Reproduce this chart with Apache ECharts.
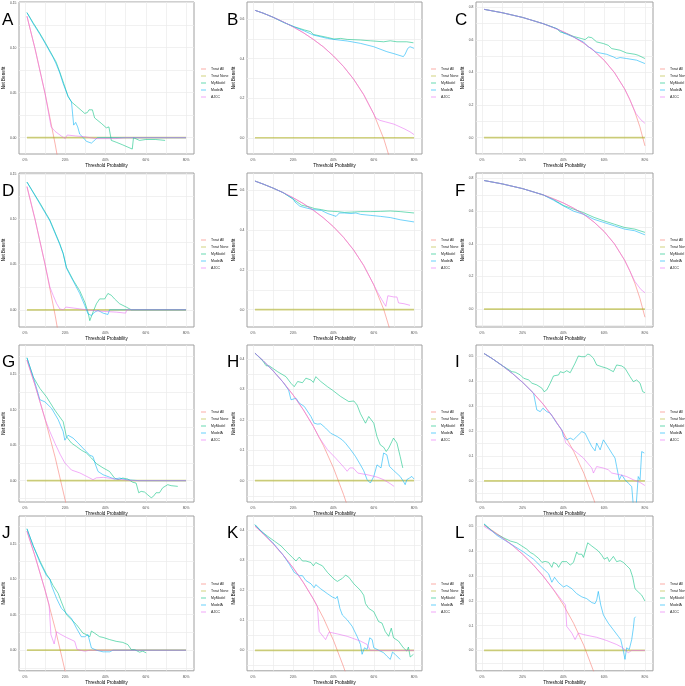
<!DOCTYPE html>
<html><head><meta charset="utf-8">
<script src="https://cdn.jsdelivr.net/npm/echarts@6/dist/echarts.min.js"></script>
<style>html,body{margin:0;padding:0;background:#fff}#c{width:685px;height:686px}</style>
</head><body><div id="c"></div>
<script>
// ---------- DATA (threshold, net benefit) ----------
const seriesNames = ['Treat All','Treat None','MyModel','ModelA','AJCC'];
const xTicks = [0, 0.2, 0.4, 0.6, 0.8];
const yTicks015 = [0, 0.05, 0.10, 0.15];
const yTicks04 = [0, 0.1, 0.2, 0.3, 0.4];
const yTicks05 = [0, 0.1, 0.2, 0.3, 0.4, 0.5];
const yTicks06 = [0, 0.2, 0.4, 0.6];
const yTicks08 = [0, 0.2, 0.4, 0.6, 0.8];
const treatNone = [[0.01,0],[0.80,0]];

const A_all = [[0.01,0.135],[0.05,0.099],[0.10,0.049],[0.15,-0.007],[0.20,-0.07]];
const A_my = [[0.01,0.139],[0.04,0.128],[0.074,0.116],[0.10,0.106],[0.14,0.090],[0.155,0.084],[0.173,0.073],[0.19,0.062],[0.214,0.046],[0.23,0.040],[0.256,0.035],[0.297,0.027],[0.31,0.028],[0.318,0.031],[0.335,0.031],[0.346,0.022],[0.379,0.016],[0.404,0.011],[0.417,0.012],[0.429,-0.003],[0.453,-0.005],[0.486,-0.008],[0.533,-0.0126],[0.539,0.0],[0.569,-0.003],[0.60,-0.002],[0.65,-0.002],[0.696,-0.003]];
const A_mA = [[0.01,0.139],[0.04,0.127],[0.074,0.115],[0.10,0.105],[0.14,0.089],[0.155,0.082],[0.173,0.072],[0.19,0.060],[0.214,0.046],[0.231,0.040],[0.242,0.014],[0.252,0.017],[0.262,0.012],[0.272,0.004],[0.29,0.0],[0.305,-0.004],[0.33,-0.006],[0.35,-0.002],[0.36,0.0],[0.5,0.0],[0.8,0.0]];
const A_ajcc = [[0.01,0.135],[0.05,0.099],[0.10,0.049],[0.13,0.012],[0.15,0.007],[0.18,0.002],[0.20,-0.001],[0.21,0.003],[0.25,0.002],[0.30,0.001],[0.35,-0.001],[0.45,-0.001],[0.50,0.0],[0.80,0.0]];

const B_all = [[0.01,0.644],[0.05,0.630],[0.10,0.609],[0.15,0.586],[0.20,0.560],[0.25,0.531],[0.30,0.497],[0.35,0.459],[0.40,0.413],[0.45,0.360],[0.50,0.296],[0.55,0.218],[0.60,0.120],[0.65,-0.006],[0.70,-0.173]];
const B_my = [[0.01,0.644],[0.05,0.630],[0.10,0.609],[0.156,0.581],[0.205,0.561],[0.255,0.545],[0.287,0.536],[0.30,0.522],[0.337,0.514],[0.37,0.507],[0.402,0.499],[0.435,0.502],[0.468,0.497],[0.534,0.494],[0.583,0.490],[0.649,0.485],[0.682,0.490],[0.715,0.485],[0.764,0.485],[0.797,0.480]];
const B_mA = [[0.01,0.644],[0.05,0.630],[0.10,0.609],[0.156,0.582],[0.205,0.560],[0.255,0.540],[0.30,0.519],[0.37,0.502],[0.40,0.497],[0.468,0.489],[0.534,0.477],[0.60,0.460],[0.665,0.435],[0.70,0.425],[0.747,0.410],[0.756,0.423],[0.769,0.452],[0.78,0.460],[0.80,0.452]];
const B_ajcc = [[0.01,0.644],[0.05,0.630],[0.10,0.609],[0.15,0.586],[0.20,0.560],[0.25,0.531],[0.30,0.497],[0.35,0.459],[0.40,0.413],[0.45,0.360],[0.50,0.296],[0.55,0.218],[0.61,0.100],[0.63,0.088],[0.66,0.080],[0.70,0.069],[0.75,0.046],[0.78,0.030],[0.80,0.016]];

const C_all = [[0.01,0.788],[0.1,0.767],[0.2,0.738],[0.3,0.700],[0.35,0.677],[0.4,0.650],[0.45,0.618],[0.5,0.580],[0.55,0.533],[0.6,0.475],[0.65,0.400],[0.7,0.300],[0.725,0.236],[0.75,0.160],[0.775,0.067],[0.8,-0.050]];
const C_my = [[0.01,0.788],[0.1,0.767],[0.2,0.738],[0.3,0.700],[0.367,0.669],[0.384,0.649],[0.416,0.639],[0.449,0.622],[0.49,0.608],[0.506,0.602],[0.522,0.618],[0.539,0.614],[0.563,0.588],[0.596,0.578],[0.62,0.567],[0.637,0.547],[0.678,0.537],[0.71,0.520],[0.751,0.512],[0.767,0.506],[0.80,0.486]];
const C_mA = [[0.01,0.788],[0.1,0.767],[0.2,0.738],[0.3,0.700],[0.37,0.668],[0.40,0.643],[0.449,0.618],[0.498,0.588],[0.522,0.557],[0.539,0.547],[0.555,0.527],[0.58,0.520],[0.612,0.512],[0.645,0.496],[0.661,0.486],[0.678,0.492],[0.71,0.486],[0.759,0.476],[0.80,0.455]];
const C_ajcc = [[0.01,0.788],[0.1,0.767],[0.2,0.738],[0.3,0.700],[0.4,0.650],[0.45,0.618],[0.5,0.580],[0.55,0.533],[0.6,0.475],[0.65,0.400],[0.7,0.300],[0.725,0.236],[0.755,0.150],[0.78,0.110],[0.80,0.088]];

const D_all = [[0.01,0.136],[0.05,0.100],[0.10,0.050],[0.15,-0.006],[0.20,-0.07]];
const D_my = [[0.01,0.141],[0.074,0.118],[0.124,0.099],[0.173,0.073],[0.19,0.062],[0.206,0.047],[0.239,0.033],[0.272,0.021],[0.297,0.0085],[0.313,-0.0026],[0.322,-0.012],[0.338,-0.0026],[0.355,0.0067],[0.371,0.012],[0.396,0.012],[0.412,0.018],[0.429,0.016],[0.445,0.012],[0.47,0.0067],[0.503,0.003],[0.528,0.0],[0.80,0.0]];
const D_mA = [[0.01,0.141],[0.074,0.117],[0.124,0.098],[0.173,0.072],[0.19,0.062],[0.206,0.046],[0.239,0.032],[0.272,0.018],[0.297,0.0048],[0.313,-0.0044],[0.33,-0.0063],[0.346,-0.0026],[0.363,-0.0007],[0.388,-0.0037],[0.412,-0.0052],[0.42,0.0],[0.80,0.0]];
const D_ajcc = [[0.01,0.136],[0.05,0.100],[0.10,0.050],[0.124,0.025],[0.14,0.016],[0.157,0.007],[0.173,0.001],[0.19,0.0],[0.203,0.003],[0.239,0.002],[0.305,0.0],[0.371,-0.0015],[0.454,-0.0026],[0.50,-0.0037],[0.506,0.0],[0.80,0.0]];

const E_all = [[0.01,0.6465],[0.05,0.6316],[0.1,0.6111],[0.15,0.5882],[0.2,0.5625],[0.25,0.5333],[0.3,0.50],[0.35,0.4615],[0.4,0.4167],[0.45,0.3636],[0.5,0.30],[0.55,0.2222],[0.6,0.125],[0.65,0.0],[0.7,-0.1667]];
const E_my = [[0.01,0.6465],[0.05,0.6316],[0.1,0.6111],[0.15,0.5882],[0.2,0.555],[0.242,0.525],[0.282,0.516],[0.307,0.508],[0.34,0.503],[0.372,0.496],[0.421,0.493],[0.454,0.489],[0.503,0.491],[0.535,0.493],[0.585,0.493],[0.633,0.494],[0.682,0.496],[0.731,0.493],[0.80,0.486]];
const E_mA = [[0.01,0.6465],[0.05,0.6316],[0.1,0.6111],[0.15,0.5882],[0.2,0.558],[0.209,0.541],[0.233,0.520],[0.258,0.513],[0.299,0.503],[0.34,0.499],[0.372,0.483],[0.413,0.469],[0.429,0.486],[0.454,0.486],[0.487,0.483],[0.511,0.486],[0.535,0.479],[0.585,0.474],[0.633,0.469],[0.682,0.463],[0.731,0.452],[0.80,0.441]];
const E_ajcc = [[0.01,0.6465],[0.05,0.6316],[0.1,0.6111],[0.15,0.5882],[0.2,0.5625],[0.25,0.5333],[0.3,0.50],[0.35,0.4615],[0.4,0.4167],[0.45,0.3636],[0.5,0.30],[0.55,0.2222],[0.6,0.125],[0.62,0.085],[0.64,0.05],[0.66,0.017],[0.67,0.070],[0.70,0.064],[0.715,0.064],[0.723,0.034],[0.75,0.030],[0.78,0.022]];

const F_all = [[0.01,0.788],[0.1,0.767],[0.2,0.738],[0.3,0.700],[0.35,0.677],[0.4,0.650],[0.45,0.618],[0.5,0.580],[0.55,0.533],[0.6,0.475],[0.65,0.400],[0.7,0.300],[0.725,0.236],[0.75,0.160],[0.775,0.067],[0.8,-0.050]];
const F_my = [[0.01,0.788],[0.1,0.767],[0.2,0.738],[0.3,0.700],[0.35,0.672],[0.4,0.635],[0.45,0.612],[0.5,0.590],[0.55,0.562],[0.6,0.540],[0.65,0.520],[0.7,0.500],[0.75,0.490],[0.8,0.470]];
const F_mA = [[0.01,0.788],[0.1,0.767],[0.2,0.738],[0.3,0.700],[0.35,0.668],[0.4,0.632],[0.45,0.600],[0.5,0.580],[0.55,0.550],[0.6,0.530],[0.65,0.510],[0.7,0.490],[0.75,0.480],[0.8,0.455]];
const F_ajcc = [[0.01,0.788],[0.1,0.767],[0.2,0.738],[0.3,0.700],[0.4,0.650],[0.45,0.618],[0.5,0.580],[0.55,0.533],[0.6,0.475],[0.65,0.400],[0.7,0.300],[0.725,0.236],[0.75,0.170],[0.78,0.120],[0.80,0.100]];

const G_all = [[0.01,0.1697],[0.05,0.1347],[0.10,0.0867],[0.15,0.0329],[0.20,-0.0275],[0.22,-0.054]];
const G_my = [[0.01,0.173],[0.041,0.146],[0.049,0.145],[0.074,0.130],[0.107,0.118],[0.148,0.0995],[0.19,0.083],[0.206,0.062],[0.231,0.053],[0.256,0.048],[0.28,0.043],[0.305,0.039],[0.33,0.032],[0.355,0.024],[0.388,0.018],[0.42,0.013],[0.445,0.0037],[0.462,0.0014],[0.486,0.0037],[0.511,0.0023],[0.536,-0.0023],[0.552,-0.0033],[0.565,-0.017],[0.577,-0.015],[0.594,-0.016],[0.61,-0.020],[0.627,-0.024],[0.638,-0.022],[0.651,-0.017],[0.668,-0.017],[0.684,-0.010],[0.709,-0.0056],[0.726,-0.007],[0.759,-0.008]];
const G_mA = [[0.01,0.173],[0.041,0.146],[0.058,0.130],[0.074,0.114],[0.099,0.111],[0.132,0.102],[0.165,0.086],[0.19,0.069],[0.198,0.057],[0.214,0.064],[0.239,0.060],[0.264,0.053],[0.297,0.043],[0.322,0.036],[0.338,0.034],[0.351,0.022],[0.363,0.013],[0.388,0.0084],[0.42,0.005],[0.445,0.0023],[0.47,0.0037],[0.503,0.0014],[0.569,0.0],[0.80,0.0]];
const G_ajcc = [[0.01,0.1697],[0.05,0.1347],[0.10,0.0867],[0.124,0.069],[0.15,0.052],[0.175,0.037],[0.198,0.025],[0.231,0.015],[0.272,0.011],[0.30,0.007],[0.338,0.0014],[0.355,0.004],[0.39,0.0047],[0.45,0.0023],[0.54,0.0],[0.80,0.0]];

const H_all = [[0.01,0.4192],[0.05,0.3947],[0.1,0.3611],[0.15,0.3235],[0.2,0.2813],[0.25,0.2333],[0.3,0.1786],[0.35,0.1154],[0.4,0.0417],[0.45,-0.0455],[0.47,-0.085]];
const H_my = [[0.01,0.4192],[0.05,0.393],[0.065,0.378],[0.082,0.377],[0.123,0.358],[0.164,0.342],[0.189,0.32],[0.205,0.309],[0.222,0.326],[0.246,0.322],[0.263,0.337],[0.288,0.331],[0.30,0.323],[0.312,0.342],[0.337,0.326],[0.37,0.309],[0.394,0.298],[0.435,0.277],[0.476,0.26],[0.485,0.257],[0.501,0.262],[0.517,0.249],[0.534,0.22],[0.55,0.20],[0.559,0.189],[0.575,0.211],[0.60,0.189],[0.616,0.145],[0.632,0.118],[0.649,0.110],[0.662,0.096],[0.674,0.107],[0.69,0.129],[0.698,0.14],[0.715,0.124],[0.731,0.08],[0.744,0.042]];
const H_mA = [[0.01,0.4192],[0.05,0.3947],[0.1,0.3611],[0.15,0.3235],[0.177,0.298],[0.189,0.266],[0.197,0.26],[0.214,0.271],[0.23,0.255],[0.255,0.244],[0.288,0.211],[0.304,0.189],[0.32,0.186],[0.337,0.187],[0.361,0.173],[0.386,0.156],[0.419,0.145],[0.444,0.134],[0.46,0.123],[0.485,0.102],[0.509,0.08],[0.534,0.052],[0.55,0.033],[0.567,0.0033],[0.583,-0.0077],[0.60,0.014],[0.616,0.052],[0.624,0.047],[0.636,0.042],[0.649,0.091],[0.665,0.085],[0.678,0.047],[0.698,0.034],[0.731,0.014],[0.747,-0.002],[0.756,-0.013],[0.764,0.0033],[0.777,0.0087],[0.789,0.014],[0.80,0.0055]];
const H_ajcc = [[0.01,0.4192],[0.05,0.3947],[0.1,0.3611],[0.15,0.3235],[0.2,0.2813],[0.25,0.2333],[0.3,0.1786],[0.329,0.142],[0.37,0.102],[0.411,0.074],[0.452,0.044],[0.468,0.031],[0.481,0.042],[0.498,0.042],[0.521,0.025],[0.567,0.0197],[0.616,0.012],[0.649,0.0033],[0.682,-0.010],[0.701,-0.0186]];

const I_all = [[0.01,0.510],[0.05,0.4895],[0.1,0.4611],[0.15,0.4294],[0.2,0.3938],[0.25,0.3533],[0.3,0.3071],[0.35,0.2538],[0.4,0.1917],[0.45,0.1182],[0.5,0.03],[0.55,-0.0778],[0.57,-0.13]];
const I_my = [[0.01,0.510],[0.05,0.4895],[0.1,0.4611],[0.147,0.437],[0.163,0.435],[0.188,0.424],[0.204,0.411],[0.229,0.404],[0.245,0.391],[0.269,0.384],[0.294,0.371],[0.305,0.357],[0.318,0.364],[0.335,0.391],[0.351,0.42],[0.376,0.424],[0.384,0.437],[0.40,0.433],[0.416,0.441],[0.433,0.433],[0.441,0.437],[0.457,0.471],[0.473,0.50],[0.49,0.497],[0.506,0.497],[0.519,0.508],[0.531,0.504],[0.547,0.491],[0.563,0.464],[0.588,0.457],[0.612,0.451],[0.629,0.444],[0.645,0.437],[0.661,0.464],[0.686,0.46],[0.702,0.451],[0.727,0.417],[0.743,0.397],[0.759,0.404],[0.776,0.391],[0.789,0.357],[0.80,0.353]];
const I_mA = [[0.01,0.510],[0.05,0.4895],[0.1,0.4611],[0.15,0.4294],[0.2,0.3938],[0.253,0.351],[0.269,0.284],[0.286,0.277],[0.299,0.291],[0.318,0.277],[0.335,0.271],[0.367,0.231],[0.392,0.204],[0.40,0.177],[0.416,0.164],[0.433,0.171],[0.449,0.164],[0.465,0.177],[0.49,0.197],[0.506,0.191],[0.522,0.164],[0.539,0.137],[0.555,0.12],[0.563,0.151],[0.58,0.124],[0.596,0.164],[0.612,0.144],[0.637,0.111],[0.653,0.091],[0.661,0.057],[0.674,0.004],[0.686,0.024],[0.702,0.004],[0.718,-0.0093],[0.735,-0.023],[0.745,-0.12],[0.755,-0.12],[0.767,0.017],[0.776,0.004],[0.784,0.117],[0.792,0.124],[0.797,0.111]];
const I_ajcc = [[0.01,0.510],[0.05,0.4895],[0.1,0.4611],[0.15,0.4294],[0.2,0.3938],[0.25,0.3533],[0.3,0.3071],[0.35,0.2538],[0.4,0.1917],[0.41,0.153],[0.449,0.124],[0.498,0.091],[0.539,0.051],[0.547,0.031],[0.555,0.024],[0.563,0.057],[0.596,0.051],[0.62,0.044],[0.637,0.031],[0.678,0.024],[0.71,0.017],[0.743,0.004],[0.776,-0.0067],[0.80,-0.019]];

const J_all = [[0.01,0.1677],[0.05,0.1326],[0.10,0.0844],[0.15,0.0306],[0.20,-0.030],[0.22,-0.0564]];
const J_my = [[0.01,0.171],[0.041,0.147],[0.074,0.126],[0.107,0.107],[0.124,0.100],[0.14,0.091],[0.165,0.080],[0.181,0.068],[0.206,0.050],[0.231,0.043],[0.256,0.036],[0.288,0.024],[0.305,0.022],[0.322,0.019],[0.33,0.027],[0.346,0.024],[0.371,0.019],[0.388,0.018],[0.42,0.015],[0.453,0.0125],[0.486,0.011],[0.511,0.0079],[0.528,0.0009],[0.544,0.0009],[0.569,-0.0028],[0.585,-0.0014],[0.602,-0.0037]];
const J_mA = [[0.01,0.171],[0.041,0.147],[0.074,0.124],[0.107,0.105],[0.124,0.100],[0.132,0.091],[0.157,0.073],[0.181,0.059],[0.206,0.052],[0.231,0.045],[0.256,0.031],[0.28,0.019],[0.297,0.019],[0.313,0.022],[0.33,0.0032],[0.355,0.0],[0.388,-0.0023],[0.42,-0.0023],[0.437,0.0],[0.80,0.0]];
const J_ajcc = [[0.01,0.1677],[0.05,0.1326],[0.10,0.0844],[0.12,0.064],[0.129,0.022],[0.145,0.0088],[0.157,0.026],[0.173,0.023],[0.206,0.018],[0.247,0.0125],[0.259,0.001],[0.297,-0.0014],[0.305,-0.0023],[0.322,0.0],[0.80,0.0]];

const K_all = [[0.01,0.4141],[0.05,0.3895],[0.1,0.3556],[0.15,0.3176],[0.2,0.275],[0.25,0.2267],[0.3,0.1714],[0.35,0.1077],[0.4,0.0333],[0.45,-0.0545],[0.47,-0.094]];
const K_my = [[0.01,0.419],[0.041,0.397],[0.074,0.38],[0.107,0.364],[0.14,0.348],[0.164,0.331],[0.197,0.309],[0.214,0.298],[0.23,0.311],[0.246,0.298],[0.263,0.298],[0.288,0.293],[0.30,0.282],[0.312,0.293],[0.329,0.287],[0.345,0.282],[0.37,0.26],[0.402,0.238],[0.419,0.23],[0.444,0.24],[0.46,0.251],[0.476,0.244],[0.501,0.222],[0.534,0.20],[0.55,0.184],[0.559,0.156],[0.575,0.14],[0.60,0.129],[0.624,0.096],[0.641,0.091],[0.657,0.063],[0.674,0.047],[0.687,0.074],[0.698,0.042],[0.723,0.031],[0.747,0.0087],[0.764,-0.0022],[0.772,0.011],[0.781,-0.022],[0.797,-0.013]];
const K_mA = [[0.01,0.419],[0.05,0.392],[0.1,0.358],[0.15,0.318],[0.181,0.287],[0.205,0.26],[0.23,0.249],[0.246,0.249],[0.263,0.233],[0.288,0.222],[0.304,0.209],[0.312,0.219],[0.337,0.205],[0.37,0.189],[0.394,0.178],[0.411,0.173],[0.419,0.18],[0.432,0.14],[0.444,0.118],[0.468,0.102],[0.493,0.08],[0.517,0.047],[0.534,0.0197],[0.542,-0.013],[0.554,0.0087],[0.567,0.0033],[0.58,0.042],[0.592,0.036],[0.60,0.0087],[0.616,0.0033],[0.632,-0.0022],[0.649,-0.0077],[0.665,-0.019],[0.682,-0.03],[0.693,-0.0055],[0.706,-0.013],[0.731,-0.03]];
const K_ajcc = [[0.01,0.4141],[0.05,0.3895],[0.1,0.3556],[0.15,0.3176],[0.2,0.275],[0.25,0.2267],[0.3,0.1714],[0.32,0.147],[0.329,0.063],[0.361,0.036],[0.378,0.061],[0.419,0.055],[0.468,0.047],[0.534,0.031],[0.567,0.0197],[0.583,0.0],[0.80,0.0]];

const L_all = [[0.01,0.505],[0.05,0.4842],[0.1,0.4556],[0.15,0.4235],[0.2,0.3875],[0.25,0.3467],[0.3,0.30],[0.35,0.2462],[0.4,0.1833],[0.45,0.1091],[0.5,0.02],[0.55,-0.0889],[0.57,-0.14]];
const L_my = [[0.01,0.51],[0.041,0.487],[0.073,0.468],[0.106,0.454],[0.139,0.441],[0.171,0.434],[0.196,0.421],[0.22,0.408],[0.237,0.395],[0.253,0.388],[0.278,0.371],[0.294,0.355],[0.31,0.359],[0.327,0.355],[0.343,0.335],[0.351,0.355],[0.367,0.348],[0.376,0.335],[0.392,0.358],[0.416,0.358],[0.433,0.344],[0.449,0.355],[0.465,0.397],[0.473,0.388],[0.49,0.388],[0.498,0.375],[0.519,0.434],[0.539,0.421],[0.555,0.411],[0.571,0.401],[0.588,0.384],[0.60,0.368],[0.616,0.375],[0.625,0.358],[0.645,0.379],[0.661,0.358],[0.678,0.362],[0.694,0.355],[0.71,0.342],[0.727,0.328],[0.74,0.295],[0.751,0.249],[0.767,0.236],[0.784,0.223],[0.80,0.199]];
const L_mA = [[0.01,0.51],[0.073,0.464],[0.14,0.43],[0.204,0.397],[0.253,0.368],[0.294,0.335],[0.327,0.309],[0.343,0.275],[0.356,0.295],[0.376,0.273],[0.40,0.256],[0.416,0.262],[0.441,0.249],[0.465,0.229],[0.49,0.216],[0.514,0.209],[0.539,0.193],[0.555,0.189],[0.563,0.203],[0.571,0.238],[0.583,0.183],[0.596,0.143],[0.62,0.11],[0.645,0.083],[0.669,0.057],[0.681,0.044],[0.694,-0.0026],[0.702,-0.036],[0.71,0.0106],[0.723,0.004],[0.735,0.044],[0.743,0.09],[0.748,0.13],[0.754,0.136]];
const L_ajcc = [[0.01,0.500],[0.05,0.480],[0.1,0.453],[0.15,0.4225],[0.2,0.3875],[0.25,0.3467],[0.3,0.30],[0.35,0.2462],[0.41,0.183],[0.416,0.097],[0.441,0.07],[0.457,0.044],[0.473,0.07],[0.498,0.064],[0.563,0.053],[0.612,0.04],[0.661,0.024],[0.686,0.013],[0.718,-0.009],[0.735,0.0],[0.80,0.0]];

// ---------- PANEL SETUP ----------
const panels = [
  {letter:'A', d:[A_all,treatNone,A_my,A_mA,A_ajcc], yr:[-0.0181,0.1508], yt:yTicks015, dec:2},
  {letter:'B', d:[B_all,treatNone,B_my,B_mA,B_ajcc], yr:[-0.082,0.686], yt:yTicks06, dec:1},
  {letter:'C', d:[C_all,treatNone,C_my,C_mA,C_ajcc], yr:[-0.10,0.833], yt:yTicks08, dec:1},
  {letter:'D', d:[D_all,treatNone,D_my,D_mA,D_ajcc], yr:[-0.019,0.151], yt:yTicks015, dec:2},
  {letter:'E', d:[E_all,treatNone,E_my,E_mA,E_ajcc], yr:[-0.087,0.687], yt:yTicks06, dec:1},
  {letter:'F', d:[F_all,treatNone,F_my,F_mA,F_ajcc], yr:[-0.11,0.834], yt:yTicks08, dec:1},
  {letter:'G', d:[G_all,treatNone,G_my,G_mA,G_ajcc], yr:[-0.030,0.191], yt:yTicks015, dec:2},
  {letter:'H', d:[H_all,treatNone,H_my,H_mA,H_ajcc], yr:[-0.070,0.446], yt:yTicks04, dec:1},
  {letter:'I', d:[I_all,treatNone,I_my,I_mA,I_ajcc], yr:[-0.085,0.544], yt:yTicks05, dec:1},
  {letter:'J', d:[J_all,treatNone,J_my,J_mA,J_ajcc], yr:[-0.029,0.189], yt:yTicks015, dec:2},
  {letter:'K', d:[K_all,treatNone,K_my,K_mA,K_ajcc], yr:[-0.068,0.448], yt:yTicks04, dec:1},
  {letter:'L', d:[L_all,treatNone,L_my,L_mA,L_ajcc], yr:[-0.082,0.542], yt:yTicks05, dec:1}
];

const colors = ['#F8766D','#A3A500','#00BF7D','#00B0F6','#E76BF3'];
const legendColors = ['#FBADA7','#D1D27F','#66D9B1','#66D0FA','#F1A6F8'];
const colLeft = [19,247,476], colWidth = [175,175,177];
const rowTop = [2,173,345,516], rowHeight = [152,154,157,157];
const legendLeft = [201,431,660], legendTop = [67,238,410,582];
const letterLeft = [2,227,455], letterTop = [12,183,354,525];
const FONT = 'Liberation Sans, Arial, sans-serif';

function gridVals(min, max, major) {
  const h = (major[1]-major[0])/2;
  const out = [];
  for (let k = Math.ceil(min/h - 1e-9); k*h <= max + 1e-9; k++) out.push(Math.round(k*h*10000)/10000);
  return out;
}

const grids = [], xAxes = [], yAxes = [], series = [], legends = [], titles = [];
panels.forEach((p, i) => {
  const r = Math.floor(i/3), c = i % 3;
  grids.push({left:colLeft[c], top:rowTop[r], width:colWidth[c], height:rowHeight[r],
    show:true, borderColor:'#a0a0a0', borderWidth:1, backgroundColor:'#fff', containLabel:false});
  xAxes.push({type:'value', gridIndex:i, min:-0.0295, max:0.8395,
    name:'Threshold Probability', nameLocation:'middle', nameGap:9.2,
    nameTextStyle:{fontSize:4.5, color:'#000', fontFamily:FONT},
    axisLine:{show:false}, axisTick:{show:false, customValues:gridVals(-0.0295,0.8395,xTicks)},
    axisLabel:{customValues:xTicks, fontSize:3.4, color:'#4D4D4D', margin:5, fontFamily:FONT,
      formatter:v => Math.round(v*100)+'%'},
    splitLine:{show:true, lineStyle:{color:'#EBEBEB', width:0.7}}});
  yAxes.push({type:'value', gridIndex:i, min:p.yr[0], max:p.yr[1],
    name:'Net Benefit', nameLocation:'middle', nameGap:10.5,
    nameTextStyle:{fontSize:4.5, color:'#000', fontFamily:FONT},
    axisLine:{show:false}, axisTick:{show:false, customValues:gridVals(p.yr[0],p.yr[1],p.yt)},
    axisLabel:{customValues:p.yt, fontSize:3.4, color:'#4D4D4D', margin:2.5, fontFamily:FONT,
      formatter:v => v.toFixed(p.dec)},
    splitLine:{show:true, lineStyle:{color:'#EBEBEB', width:0.7}}});
  p.d.forEach((arr, k) => {
    series.push({type:'line', name:seriesNames[k], xAxisIndex:i, yAxisIndex:i, data:arr,
      symbol:'none', showSymbol:false, clip:true, silent:true,
      color:colors[k],
      lineStyle:{color:colors[k], width:(k===1?1.7:0.9), opacity:(k===1?0.5:0.62)}});
  });
  legends.push({show:true, orient:'vertical', left:legendLeft[c], top:legendTop[r],
    data:seriesNames.map((n, k) => ({name:n, icon:'rect', itemStyle:{color:legendColors[k]}})),
    itemWidth:5, itemHeight:(1), itemGap:3, padding:0,
    selectedMode:false, textStyle:{fontSize:3.5, color:'#1a1a1a', fontFamily:FONT, lineHeight:4}});
  titles.push({text:p.letter, left:letterLeft[c], top:letterTop[r], padding:0,
    textStyle:{fontSize:17, fontWeight:'normal', color:'#000', fontFamily:FONT}});
});

const chart = echarts.init(document.getElementById('c'), null, {renderer:'canvas'});
chart.setOption({
  backgroundColor:'#fff', animation:false,
  title:titles, grid:grids, xAxis:xAxes, yAxis:yAxes, legend:legends, series:series
});
</script></body></html>
